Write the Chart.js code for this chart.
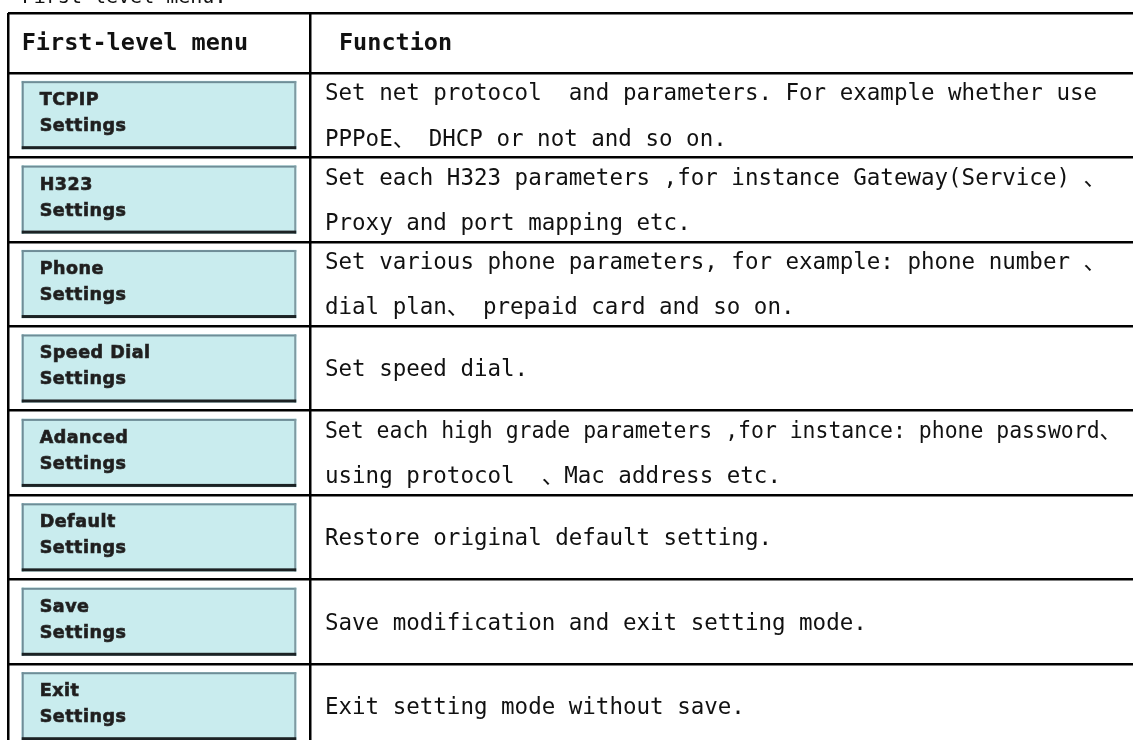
<!DOCTYPE html>
<html>
<head>
<meta charset="utf-8">
<script src="https://cdn.jsdelivr.net/npm/chart.js@4"></script>
<style>
  body { margin: 0; background: #fff; }
  #menuTable { display: block; }
</style>
</head>
<body>
<canvas id="menuTable" width="1133" height="740"></canvas>
<script>
// table content
const caption = 'First-level menu:'
const headers = ['First-level menu', 'Function']
const menuItems = [
    ['TCPIP', 'Settings'],
    ['H323', 'Settings'],
    ['Phone', 'Settings'],
    ['Speed Dial', 'Settings'],
    ['Adanced', 'Settings'],
    ['Default', 'Settings'],
    ['Save', 'Settings'],
    ['Exit', 'Settings']
]
const functions = [
    ['Set net protocol  and parameters. For example whether use', 'PPPoE、 DHCP or not and so on.'],
    ['Set each H323 parameters ,for instance Gateway(Service) 、', 'Proxy and port mapping etc.'],
    ['Set various phone parameters, for example: phone number 、', 'dial plan、 prepaid card and so on.'],
    ['Set speed dial.'],
    ['Set each high grade parameters ,for instance: phone password、', 'using protocol  、Mac address etc.'],
    ['Restore original default setting.'],
    ['Save modification and exit setting mode.'],
    ['Exit setting mode without save.']
]

// layout (in scale units)
const COL_SPLIT = 0.2684   // share of the first column
const CELL_PAD = 0.0122
const HEADER_ROW = -0.71   // header height relative to a body row
const LINE_GAP = 0.267

const textFont = '22.5px "DejaVu Sans Mono", "Noto Sans CJK SC", monospace'
const headFont = 'bold 23.5px "DejaVu Sans Mono", "Noto Sans CJK SC", monospace'
const btnFont = 'bold 17.5px "DejaVu Sans", Verdana, sans-serif'

const tableText = {
    id: 'tableText',
    afterDatasetsDraw(chart) {
        const { ctx, scales: { x, y } } = chart
        ctx.save()

        // 3D look of the buttons
        chart.getDatasetMeta(0).data.forEach((bar, i) => {
            const l = bar.base, r = bar.x
            const t = bar.y - bar.height / 2, b = bar.y + bar.height / 2
            ctx.fillStyle = '#6f8d97'
            ctx.fillRect(l, t, r - l, 2)
            ctx.fillRect(l, t, 2, b - t)
            ctx.fillStyle = '#7f9aa2'
            ctx.fillRect(r - 2, t, 2, b - t)
            ctx.fillStyle = '#1c2224'
            ctx.fillRect(l, b - 3, r - l, 3)

            ctx.fillStyle = '#1e1e1e'
            ctx.strokeStyle = '#2a2a2a'
            ctx.lineWidth = 0.7
            ctx.font = btnFont
            ctx.letterSpacing = '0.5px'
            ctx.textBaseline = 'alphabetic'
            menuItems[i].forEach((word, j) => {
                const by = bar.y + (j ? 16 : -10)
                ctx.fillText(word, l + 18, by)
                ctx.strokeText(word, l + 18, by)
            })
            ctx.letterSpacing = '0px'
        })

        ctx.fillStyle = '#111'

        // caption above the table, mostly cut off
        ctx.font = '20px "DejaVu Sans Mono", monospace'
        ctx.textBaseline = 'alphabetic'
        ctx.fillText(caption, x.getPixelForValue(CELL_PAD), 3)

        // header
        ctx.textBaseline = 'middle'
        ctx.font = headFont
        const hy = y.getPixelForValue(HEADER_ROW / 2) + 1
        ctx.fillText(headers[0], x.getPixelForValue(CELL_PAD), hy)
        ctx.fillText(headers[1], x.getPixelForValue(COL_SPLIT) + 29, hy)

        // function column
        ctx.font = textFont
        const textX = x.getPixelForValue(COL_SPLIT) + 15
        functions.forEach((lines, i) => {
            lines.forEach((line, j) => {
                const off = (j - (lines.length - 1) / 2) * 2 * LINE_GAP
                ctx.fillText(line, textX, y.getPixelForValue(i + 0.5 + off) + 2, chart.width - 12 - textX)
            })
        })
        ctx.restore()
    }
}

const ctx = document.getElementById('menuTable').getContext('2d')
const menuChart = new Chart(ctx, {
    type: 'bar',
    data: {
        datasets: [{
            data: menuItems.map((m, i) => ({ y: i + 0.5, x: [CELL_PAD, COL_SPLIT - CELL_PAD] })),
            backgroundColor: '#c9ecee',
            borderWidth: 0,
            barThickness: 68
        }]
    },
    options: {
        indexAxis: 'y',
        responsive: false,
        animation: false,
        layout: { padding: { left: 8, top: 13, right: 0, bottom: 0 } },
        plugins: { legend: { display: false }, tooltip: { enabled: false } },
        scales: {
            x: {
                type: 'linear',
                min: 0,
                max: 1,
                afterBuildTicks: scale => { scale.ticks = [0, COL_SPLIT].map(v => ({ value: v })) },
                ticks: { display: false },
                grid: { color: '#000', lineWidth: 2.5, drawTicks: false },
                border: { display: false }
            },
            y: {
                type: 'linear',
                reverse: true,
                offset: false,
                min: HEADER_ROW,
                max: 7.9,
                afterBuildTicks: scale => {
                    scale.ticks = [HEADER_ROW].concat(menuItems.map((m, i) => i)).map(v => ({ value: v }))
                },
                ticks: { display: false },
                grid: { color: '#000', lineWidth: 2.5, drawTicks: false, offset: false },
                border: { display: false }
            }
        }
    },
    plugins: [tableText]
})
</script>
</body>
</html>
